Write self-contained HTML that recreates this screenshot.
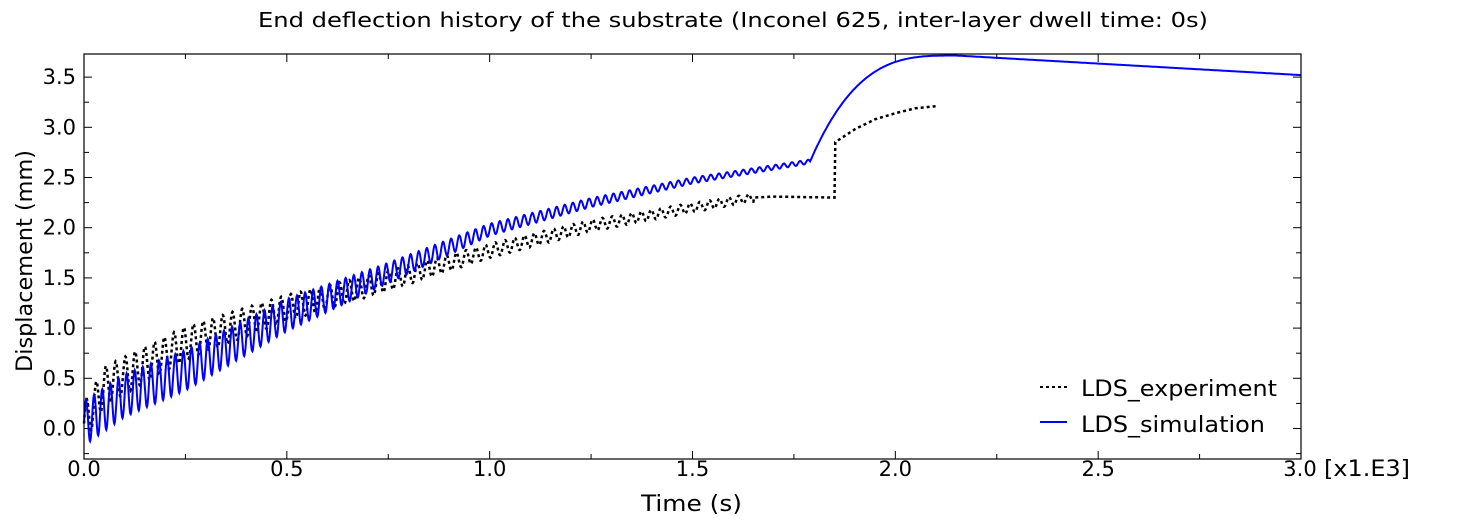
<!DOCTYPE html>
<html><head><meta charset="utf-8"><style>
html,body{margin:0;padding:0;background:#fff;}
svg{display:block;font-family:"DejaVu Sans","Liberation Sans",sans-serif;}
</style></head><body>
<svg id="s" width="1460" height="529" viewBox="0 0 1460 529" xmlns="http://www.w3.org/2000/svg">
<text x="258" y="27" font-size="20" textLength="950" lengthAdjust="spacingAndGlyphs">End deflection history of the substrate (Inconel 625, inter-layer dwell time: 0s)</text>
<g id="ticks" stroke="#000" stroke-width="1"></g>
<g id="labels" font-size="21"></g>
<path id="exp" fill="none" stroke="#000" stroke-width="2.5" stroke-dasharray="3,3"/>
<path id="sim" fill="none" stroke="#0000ff" stroke-width="2"/>
<rect x="84" y="54" width="1217" height="405" fill="none" stroke="#000" stroke-width="1.2"/>
<line x1="1040" y1="387" x2="1067" y2="387" stroke="#000" stroke-width="2" stroke-dasharray="3,3"/>
<line x1="1040" y1="422" x2="1067" y2="422" stroke="#0000ff" stroke-width="2"/>
<text x="1081" y="396" font-size="22" textLength="196" lengthAdjust="spacingAndGlyphs">LDS_experiment</text>
<text x="1081" y="432" font-size="22" textLength="184" lengthAdjust="spacingAndGlyphs">LDS_simulation</text>
<text x="641" y="511" font-size="22" textLength="101" lengthAdjust="spacingAndGlyphs">Time (s)</text>
<text transform="translate(32,372) rotate(-90)" font-size="22" textLength="222" lengthAdjust="spacingAndGlyphs">Displacement (mm)</text>
<text x="1324" y="476" font-size="22" textLength="86" lengthAdjust="spacingAndGlyphs">[x1.E3]</text>
</svg>
<script>
var X0=84,X1=1301,Y0=428.5,SY=100.4;
function px(t){return X0+(X1-X0)*t/3000;}
function py(v){return Y0-v*SY;}
var tk=document.getElementById('ticks'),lb=document.getElementById('labels'),h='',l='';
for(var i=0;i<=12;i++){var x=px(i*250),L=(i%2==0)?8:5;
h+='<line x1="'+x+'" y1="459" x2="'+x+'" y2="'+(459-L)+'"/><line x1="'+x+'" y1="54" x2="'+x+'" y2="'+(54+L)+'"/>';
if(i%2==0&&i<12)l+='<text x="'+x+'" y="476" text-anchor="middle">'+(i/4).toFixed(1)+'</text>';}
l+='<text x="'+(px(3000)-1)+'" y="476" text-anchor="middle">3.0</text>';
for(var j=-1;j<=14;j++){var v=j*0.25,y=py(v);if(y<54||y>459)continue;var L=(j%2==0)?8:5;
h+='<line x1="84" y1="'+y+'" x2="'+(84+L)+'" y2="'+y+'"/><line x1="1301" y1="'+y+'" x2="'+(1301-L)+'" y2="'+y+'"/>';
if(j%2==0)l+='<text x="76" y="'+(y+7)+'" text-anchor="end">'+v.toFixed(1)+'</text>';}
tk.innerHTML=h;lb.innerHTML=l;
function interp(pts,t){for(var k=1;k<pts.length;k++){if(t<=pts[k][0]){var a=pts[k-1],b=pts[k];return a[1]+(b[1]-a[1])*(t-a[0])/(b[0]-a[0]);}}return pts[pts.length-1][1];}
var sc=[[0,0.05],[100,0.33],[250,0.58],[500,1.13],[750,1.55],[1000,1.98],[1250,2.25],[1500,2.47],[1790,2.66]];
var sa=[[0,0.22],[250,0.2],[500,0.16],[750,0.1],[1000,0.06],[1500,0.03],[1790,0.02]];
var d='';
for(var t=0;t<=1790;t+=1){var v=interp(sc,t)+interp(sa,t)*Math.sin(2*Math.PI*t/20);d+=(t?'L':'M')+px(t).toFixed(1)+','+py(v).toFixed(1);}
for(var t=1792;t<=3000;t+=2){var v;if(t<=2150){var s=(t-1790)/360;v=2.66+1.055*(1-Math.pow(1-s,3.2));}else{v=3.715-(t-2150)/850*0.195;}
d+='L'+px(t).toFixed(1)+','+py(v).toFixed(1);}
document.getElementById('sim').setAttribute('d',d);
var ec=[[0,0.05],[50,0.42],[250,0.85],[500,1.2],[750,1.47],[1000,1.77],[1250,2.02],[1500,2.2],[1650,2.3]];
var ea=[[0,0.2],[500,0.13],[1000,0.07],[1650,0.04]];
var e='';
for(var t=0;t<=1650;t+=1){var v=interp(ec,t)+interp(ea,t)*Math.sin(2*Math.PI*t/24);e+=(t?'L':'M')+px(t).toFixed(1)+','+py(v).toFixed(1);}
var et=[[1650,2.3],[1700,2.31],[1850,2.3],[1851,2.85],[1900,2.98],[1950,3.08],[2000,3.14],[2050,3.19],[2100,3.21]];
for(var t=1652;t<=2100;t+=2){e+='L'+px(t).toFixed(1)+','+py(interp(et,t)).toFixed(1);}
document.getElementById('exp').setAttribute('d',e);
</script>
</body></html>
